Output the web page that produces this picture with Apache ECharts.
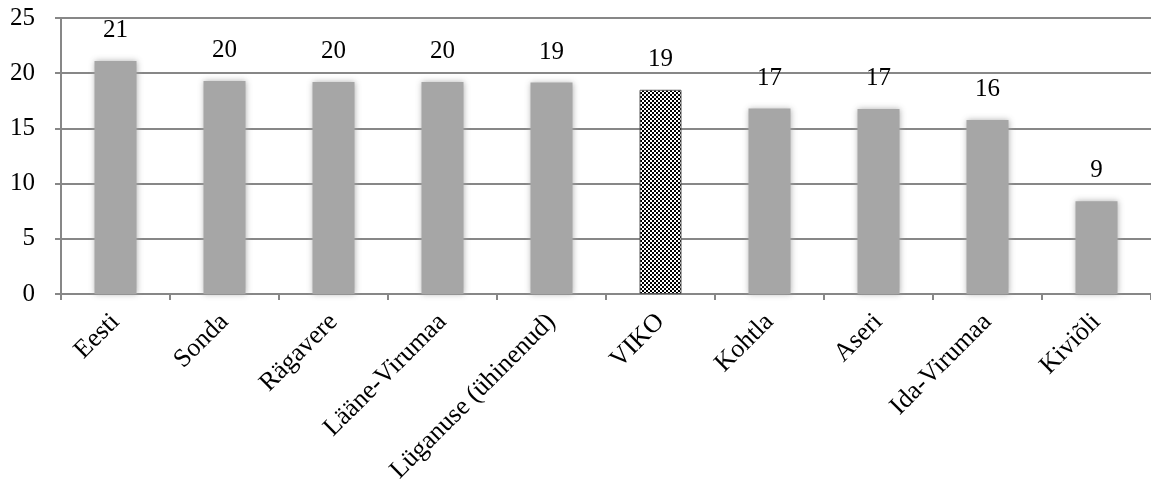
<!DOCTYPE html>
<html><head><meta charset="utf-8">
<script src="https://cdn.jsdelivr.net/npm/echarts@6/dist/echarts.min.js"></script>
<style>html,body{margin:0;padding:0;background:#fff}#c{width:1151px;height:488px}</style>
</head><body><div id="c"></div>
<script>
const categories = ['Eesti','Sonda','Rägavere','Lääne-Virumaa','Lüganuse (ühinenud)','VIKO','Kohtla','Aseri','Ida-Virumaa','Kiviõli'];
const values = [21.1, 19.3, 19.2, 19.2, 19.15, 18.5, 16.8, 16.75, 15.75, 8.4];
const valueLabels = ['21','20','20','20','19','19','17','17','16','9'];
const highlightCategory = 'VIKO';
const yTicks = { min: 0, max: 25, interval: 5 };

const pat = document.createElement('canvas');
pat.width = 4; pat.height = 4;
const pc = pat.getContext('2d');
pc.fillStyle = '#fff'; pc.fillRect(0,0,4,4);
pc.fillStyle = '#000'; pc.fillRect(0,0,2,2); pc.fillRect(2,2,2,2);

const font = '"Liberation Serif","Times New Roman",serif';
const chart = echarts.init(document.getElementById('c'));
chart.setOption({
  animation: false,
  grid: { left: 61, right: 0, top: 18, bottom: 194, containLabel: false },
  xAxis: {
    type: 'category', data: categories, boundaryGap: true,
    axisLine: { lineStyle: { color: '#878787', width: 2 } },
    axisTick: { show: true, alignWithLabel: false, length: 6, lineStyle: { color: '#878787', width: 2 } },
    axisLabel: { rotate: 45, interval: 0, margin: 24, color: '#000', fontFamily: font, fontSize: 26 }
  },
  yAxis: {
    type: 'value', min: yTicks.min, max: yTicks.max, interval: yTicks.interval,
    axisLine: { show: true, lineStyle: { color: '#878787', width: 2 } },
    axisTick: { show: true, length: 6, lineStyle: { color: '#878787', width: 2 } },
    axisLabel: { color: '#000', fontFamily: font, fontSize: 25, margin: 26 },
    splitLine: { lineStyle: { color: '#878787', width: 2 } }
  },
  series: [{
    type: 'bar', barWidth: 42,
    data: values.map((v, i) => categories[i] === highlightCategory
      ? { value: v, itemStyle: { color: { image: pat, repeat: 'repeat' }, borderColor: '#555', borderWidth: 1, shadowBlur: 0 } }
      : { value: v }),
    itemStyle: { color: '#a6a6a6', shadowBlur: 6, shadowColor: 'rgba(166,166,166,0.9)' },
    label: {
      show: true, position: 'top', distance: 18, color: '#000', fontFamily: font, fontSize: 25,
      formatter: p => valueLabels[p.dataIndex]
    }
  }]
});
</script></body></html>
